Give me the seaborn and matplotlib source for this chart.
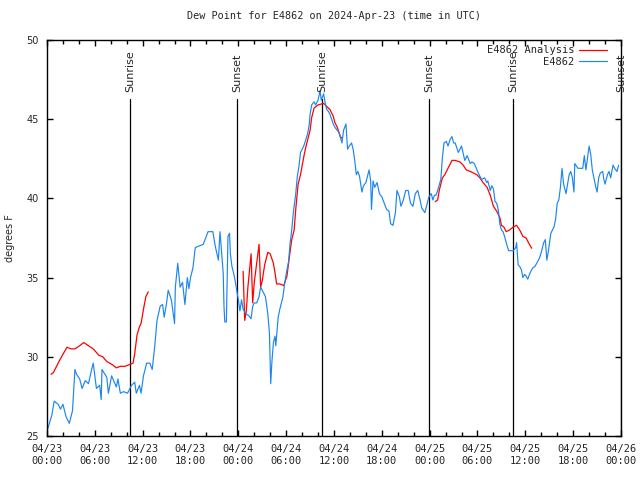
import matplotlib
matplotlib.use("Agg")
import matplotlib.pyplot as plt
import matplotlib.dates as mdates
import matplotlib.transforms as mtransforms
import seaborn as sns
import pandas as pd
import numpy as np

# ---------------- data ----------------
start = pd.Timestamp("2024-04-23 00:00")

obs_hours = [0.0, 0.6, 0.9, 1.4, 1.7, 2.0, 2.4, 2.8, 3.2, 3.5, 3.7, 4.1, 4.4, 4.8, 5.2, 5.6, 5.8,
             6.2, 6.6, 6.8, 6.9, 7.5, 7.7, 8.1, 8.7, 8.9, 9.2, 9.6, 10.1, 10.6, 11.0, 11.2, 11.6,
             11.8, 12.1, 12.5, 12.9, 13.2, 13.5, 13.8, 14.2, 14.5, 14.7, 15.0, 15.2, 15.6, 16.0,
             16.1, 16.4, 16.7, 17.0, 17.3, 17.6, 17.8, 18.0, 18.3, 18.6, 19.1, 19.6, 20.2, 20.8,
             21.1, 21.5, 21.7, 21.9, 22.1, 22.2, 22.3, 22.5, 22.7, 22.9, 23.0, 23.2, 23.4, 23.6,
             23.8, 24.0, 24.2, 24.4, 24.6, 25.0, 25.3, 25.6, 25.8, 26.0, 26.3, 26.6, 26.8, 27.1,
             27.4, 27.7, 27.9, 28.0, 28.06, 28.2, 28.4, 28.6, 28.7, 28.9, 29.0, 29.2, 29.6, 29.8,
             30.1, 30.3, 30.5, 30.7, 30.9, 31.2, 31.4, 31.6, 31.8, 32.2, 32.4, 32.7, 32.9, 33.0,
             33.2, 33.5, 33.7, 34.0, 34.25, 34.4, 34.7, 34.9, 35.1, 35.3, 35.5, 35.9, 36.1, 36.4,
             36.6, 37.0, 37.2, 37.5, 37.7, 37.9, 38.2, 38.4, 38.6, 38.8, 39.0, 39.2, 39.5, 39.7,
             40.0, 40.4, 40.6, 40.7, 40.9, 41.1, 41.4, 41.7, 42.0, 42.3, 42.6, 42.9, 43.1, 43.4,
             43.7, 43.9, 44.2, 44.4, 44.7, 45.0, 45.3, 45.6, 45.9, 46.2, 46.5, 46.8, 47.0, 47.4,
             47.7, 47.9, 48.2, 48.4, 48.6, 48.8, 49.0, 49.4, 49.6, 49.8, 50.1, 50.3, 50.55, 50.8,
             51.0, 51.2, 51.6, 52.0, 52.4, 52.7, 53.1, 53.3, 53.6, 54.1, 54.5, 54.9, 55.15, 55.3,
             55.6, 55.8, 56.0, 56.2, 56.4, 56.6, 56.8, 57.0, 57.2, 57.4, 57.6, 57.9, 58.5, 58.8,
             58.9, 59.1, 59.3, 59.5, 59.7, 59.9, 60.1, 60.3, 60.6, 60.9, 61.2, 61.75, 62.0, 62.3,
             62.5, 62.7, 62.9, 63.2, 63.6, 63.8, 64.0, 64.2, 64.4, 64.6, 64.8, 65.1, 65.3, 65.5,
             65.7, 65.9, 66.1, 66.2, 66.6, 67.2, 67.4, 67.6, 68.0, 68.2, 68.4, 68.6, 68.8, 69.0,
             69.2, 69.4, 69.7, 69.85, 70.0, 70.3, 70.5, 70.7, 71.0, 71.2, 71.5, 71.7]
obs_values = [25.3, 26.3, 27.2, 27.0, 26.7, 27.0, 26.2, 25.8, 26.6, 29.2, 28.9, 28.6, 28.0, 28.5, 28.3, 29.2, 29.6,
              28.0, 28.2, 27.3, 29.2, 28.7, 27.7, 28.8, 28.1, 28.6, 27.7, 27.8, 27.7, 28.2, 28.4, 27.7, 28.2,
              27.7, 28.8, 29.6, 29.6, 29.2, 30.6, 32.3, 33.2, 33.3, 32.5, 33.4, 34.2, 33.6, 32.1,
              34.4, 35.9, 34.4, 34.7, 33.3, 35.0, 34.3, 35.0, 35.6, 36.9, 37.0, 37.1, 37.9, 37.9,
              37.0, 36.1, 37.9, 36.6, 35.3, 33.2, 32.2, 32.2, 37.6, 37.8, 36.5, 35.7, 35.3, 34.8,
              34.2, 33.6, 32.9, 33.6, 33.0, 32.7, 32.6, 32.4, 33.2, 33.4, 33.4, 33.8, 34.4, 34.1,
              33.8, 32.7, 31.5, 29.6, 28.3, 29.6, 30.9, 31.3, 30.7, 31.9, 32.5, 33.0, 33.8, 34.6,
              35.5, 36.0, 37.2, 38.0, 39.1, 40.3, 41.4, 42.0, 42.9, 43.3, 43.6, 44.1, 44.7, 45.3,
              45.9, 46.1, 45.9, 46.2, 46.8, 46.2, 46.6, 46.0, 45.6, 45.5, 45.3, 44.7, 44.5, 44.3,
              44.2, 43.5, 44.3, 44.7, 43.1, 43.3, 43.5, 43.1, 42.4, 41.5, 41.7, 41.4, 40.4, 40.8,
              41.0, 41.8, 41.1, 39.3, 41.1, 40.7, 41.0, 40.3, 40.1, 39.7, 39.3, 39.2, 38.4, 38.3,
              39.1, 40.5, 40.1, 39.5, 39.9, 40.5, 40.5, 39.7, 39.5, 40.3, 40.5, 39.9, 39.4, 39.1,
              39.7, 40.1, 40.3, 39.9, 40.2, 40.2, 40.5, 41.2, 42.6, 43.5, 43.6, 43.3, 43.7, 43.9,
              43.5, 43.5, 42.9, 43.3, 42.4, 42.7, 42.2, 42.3, 42.2, 41.6, 41.2, 41.3, 41.0, 41.1,
              40.5, 40.8, 40.6, 39.8, 39.7, 39.3, 38.4, 38.0, 37.9, 37.6, 37.2, 36.7, 36.7, 36.9,
              37.2, 35.8, 35.7, 35.5, 35.0, 35.2, 35.1, 34.9, 35.3, 35.6, 35.7, 36.2, 36.6, 37.2,
              37.4, 36.1, 36.7, 37.8, 38.2, 38.7, 39.7, 39.9, 40.7, 41.9, 40.9, 40.3, 40.9, 41.5,
              41.7, 41.3, 40.4, 42.2, 41.9, 41.9, 42.7, 41.8, 43.3, 42.8, 41.8, 41.3, 40.8, 40.4,
              41.3, 41.6, 41.7, 41.2, 40.9, 41.5, 41.7, 41.3, 42.1, 41.9, 41.7, 42.1]

ana1_hours = [0.5, 0.8, 1.6, 2.5, 3.0, 3.5, 4.1, 4.6, 5.2, 5.8, 6.5, 7.0, 7.5, 8.2, 8.7, 9.2, 9.8,
              10.3, 10.8, 11.0, 11.3, 11.6, 11.8, 12.1, 12.4, 12.7]
ana1_values = [28.9, 29.0, 29.8, 30.6, 30.5, 30.5, 30.7, 30.9, 30.7, 30.5, 30.1, 30.0, 29.7, 29.5, 29.3,
               29.4, 29.4, 29.5, 29.6, 30.2, 31.4, 31.9, 32.1, 33.0, 33.8, 34.1]
ana2_hours = [24.6, 24.8, 25.0, 25.2, 25.6, 25.8, 26.0, 26.3, 26.6, 26.8, 27.0, 27.3, 27.7, 28.0,
              28.4, 28.6, 28.8, 29.2, 29.7, 30.1, 30.4, 30.7, 31.0, 31.2, 31.5, 31.8, 32.2, 32.4,
              32.7, 33.0, 33.2, 33.5, 34.0, 34.7, 35.1, 35.5, 35.9, 36.1, 36.4, 36.8, 37.0]
ana2_values = [35.4, 32.3, 32.9, 34.4, 36.5, 33.4, 34.7, 35.9, 37.1, 34.4, 34.8, 35.8, 36.6, 36.5,
               35.9, 35.3, 34.6, 34.6, 34.5, 35.1, 36.3, 37.4, 38.0, 39.3, 40.9, 41.5, 42.6, 43.1,
               43.7, 44.3, 45.1, 45.7, 45.9, 46.0, 45.8, 45.6, 45.2, 44.8, 44.5, 43.9, 43.8]
ana3_hours = [48.7, 49.0, 49.2, 49.6, 49.9, 50.3, 50.8, 51.2, 51.8, 52.2, 52.6, 53.1, 53.5, 53.9,
              54.3, 54.7, 55.2, 55.6, 56.0, 56.4, 56.8, 57.0, 57.3, 57.6, 58.0, 58.5, 58.9, 59.3,
              59.7, 60.1, 60.4, 60.8]
ana3_values = [39.8, 39.9, 40.5, 41.3, 41.5, 41.9, 42.4, 42.4, 42.3, 42.1, 41.8, 41.7, 41.6, 41.5,
               41.3, 41.0, 40.7, 40.2, 39.5, 39.2, 38.8, 38.3, 38.2, 37.9, 38.0, 38.2, 38.3, 38.0,
               37.6, 37.5, 37.2, 36.85]

sun_hours = [10.41, 23.83, 34.5, 47.9, 58.45, 72.0]
sun_labels = ["Sunrise", "Sunset", "Sunrise", "Sunset", "Sunrise", "Sunset"]

title = "Dew Point for E4862 on 2024-Apr-23 (time in UTC)"
ylabel = "degrees F"
series_names = ["E4862 Analysis", "E4862"]

def to_time(h):
    return start + pd.to_timedelta(np.asarray(h), unit="h")

obs_df = pd.DataFrame({"time": to_time(obs_hours), "value": obs_values})
ana_segments = [pd.DataFrame({"time": to_time(h), "value": v})
                for h, v in [(ana1_hours, ana1_values), (ana2_hours, ana2_values), (ana3_hours, ana3_values)]]

# ---------------- plot ----------------
sns.set_style("ticks")
plt.rcParams["font.family"] = ["DejaVu Sans"]

RED = "#ff0000"
BLUE = "#1c86ee"
MONO = "DejaVu Sans Mono"

fig = plt.figure(figsize=(6.4, 4.8), dpi=100)
ax = fig.add_axes([47/640, 1-436/480, (621-47)/640, (436-40)/480])

for i, seg in enumerate(ana_segments):
    sns.lineplot(data=seg, x="time", y="value", ax=ax, color=RED, lw=0.9,
                 label=series_names[0] if i == 0 else None, legend=False)
sns.lineplot(data=obs_df, x="time", y="value", ax=ax, color=BLUE, lw=0.85,
             label=series_names[1], legend=False)

trans = mtransforms.blended_transform_factory(ax.transData, ax.transAxes)
for h, lab in zip(sun_hours, sun_labels):
    t = mdates.date2num(to_time([h])[0])
    ax.axvline(t, ymin=0, ymax=(436-99)/396, color="black", lw=0.9, zorder=1)
    ax.text(t, (436-92)/396, lab, rotation=90, ha="center", va="bottom",
            fontsize=8, transform=trans, clip_on=False)

ax.set_xlim(mdates.date2num(start), mdates.date2num(start + pd.Timedelta(hours=72)))
ax.set_ylim(25, 50)
ax.set_yticks([25, 30, 35, 40, 45, 50])
ax.xaxis.set_major_locator(mdates.HourLocator(byhour=[0, 6, 12, 18]))
ax.xaxis.set_minor_locator(mdates.HourLocator(byhour=range(0, 24, 2)))
ax.xaxis.set_major_formatter(mdates.DateFormatter("%m/%d\n%H:%M"))

ax.tick_params(axis="both", which="both", direction="in", top=True, right=True, color="black")
ax.tick_params(axis="both", which="major", length=4, width=1)
ax.tick_params(axis="x", which="minor", length=3, width=1)
ax.tick_params(axis="x", labelsize=7.5, pad=6)
ax.tick_params(axis="y", labelsize=7, pad=6)
for lbl in ax.get_xticklabels():
    lbl.set_fontfamily(MONO)
for sp in ax.spines.values():
    sp.set_color("black")
    sp.set_linewidth(1.0)

ax.set_xlabel("")
ax.set_ylabel(ylabel, fontsize=7, labelpad=8)
ax.set_title(title, fontsize=7.3, fontfamily=MONO, pad=15)

handles, labels = ax.get_legend_handles_labels()
leg = ax.legend(handles, labels, loc="upper right", bbox_to_anchor=(1 - 9/574, 1.0),
                frameon=False, markerfirst=False,
                prop={"family": MONO, "size": 7.5}, handlelength=2.7, handletextpad=0.4,
                labelspacing=0.15, borderaxespad=0.2, borderpad=0.3)

fig.savefig("out.png", dpi=100, facecolor="white")
